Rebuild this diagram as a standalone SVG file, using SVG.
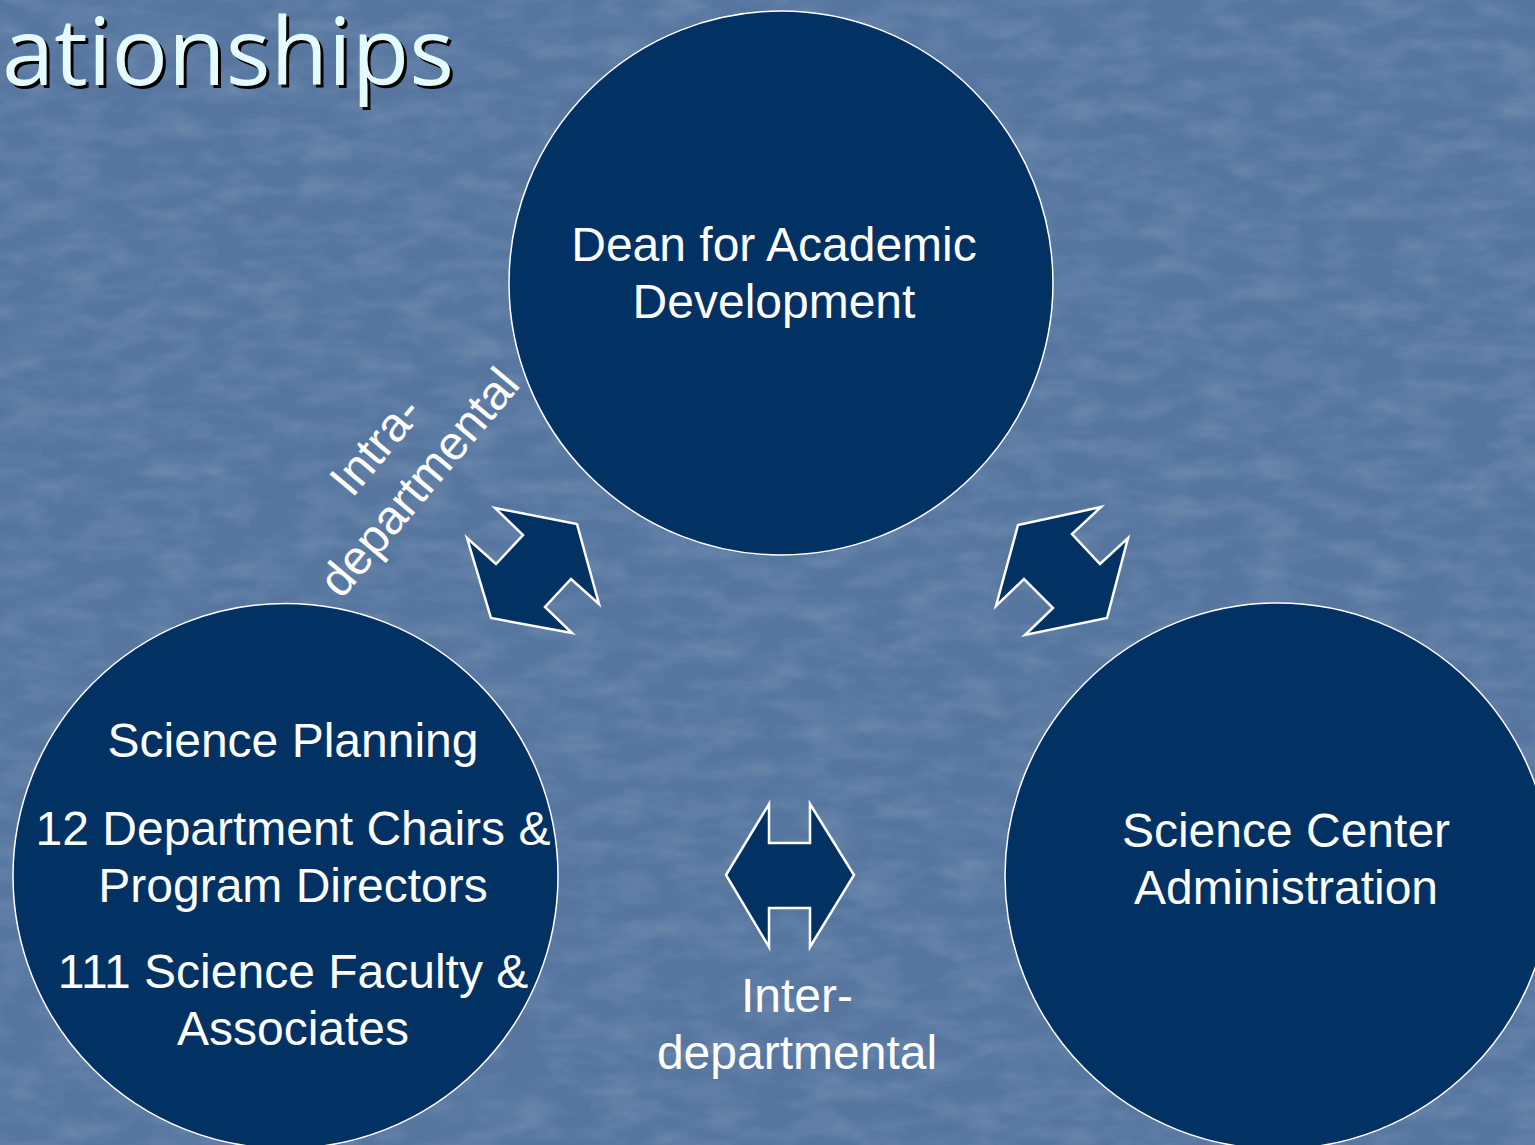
<svg xmlns="http://www.w3.org/2000/svg" width="1535" height="1145" viewBox="0 0 1535 1145">
<style>
.node{fill:#023263;stroke:#ffffff;stroke-width:1.5}
.arrow{fill:#023263;stroke:#ffffff;stroke-width:2.5;stroke-linejoin:miter}
.t{font-family:"Liberation Sans",Arial,sans-serif;font-size:48px;fill:#ffffff;text-anchor:middle}
.title{font-family:"Open Sans","Noto Sans",sans-serif;font-size:94px}
</style>
<defs>
<filter id="tex" x="0" y="0" width="100%" height="100%">
<feTurbulence type="fractalNoise" baseFrequency="0.02 0.05" numOctaves="4" seed="7" result="n"/>
<feColorMatrix in="n" type="matrix" values="0 0 0 0 1  0 0 0 0 1  0 0 0 0 1  0 0 0 0.22 -0.08"/>
</filter>
</defs>
<rect width="1535" height="1145" fill="#5676a0"/>
<rect width="1535" height="1145" filter="url(#tex)"/>
<g id="title">
<text class="title" x="5" y="88" fill="#000000">ationships</text>
<text class="title" x="2" y="85" fill="#e4fcff">ationships</text>
</g>
<g id="connectors">
<polygon id="arrow-intra" class="arrow" points="495,508 577,524 599,604 571,579 545,607 572,633 491,618 467,538 496,564 523,535"/>
<polygon id="arrow-right" class="arrow" points="1101,507 1072,534 1100,564 1128,538 1107,618 1025,635 1053,608 1024,579 996,606 1018,525"/>
<polygon id="arrow-inter" class="arrow" points="769,804 769,843 810,843 810,804 854,875 810,947 810,908 769,908 769,947 726,875"/>
<g id="label-intra" transform="translate(388,456) rotate(-50)">
<text class="t" x="0" y="0">Intra-</text>
<text class="t" x="0" y="57">departmental</text>
</g>
<g id="label-inter">
<text class="t" x="797" y="1012">Inter-</text>
<text class="t" x="797" y="1069">departmental</text>
</g>
</g>
<g id="node-dean">
<circle class="node" cx="781" cy="283" r="272"/>
<text class="t" x="774" y="261">Dean for Academic</text>
<text class="t" x="774" y="318">Development</text>
</g>
<g id="node-science-planning">
<circle class="node" cx="285.5" cy="876" r="272.5"/>
<text class="t" x="293" y="757">Science Planning</text>
<text class="t" x="293" y="845">12 Department Chairs &amp;</text>
<text class="t" x="293" y="902">Program Directors</text>
<text class="t" x="293" y="988">111 Science Faculty &amp;</text>
<text class="t" x="293" y="1045">Associates</text>
</g>
<g id="node-science-center">
<circle class="node" cx="1278" cy="876" r="273"/>
<text class="t" x="1286" y="847">Science Center</text>
<text class="t" x="1286" y="904">Administration</text>
</g>
</svg>
